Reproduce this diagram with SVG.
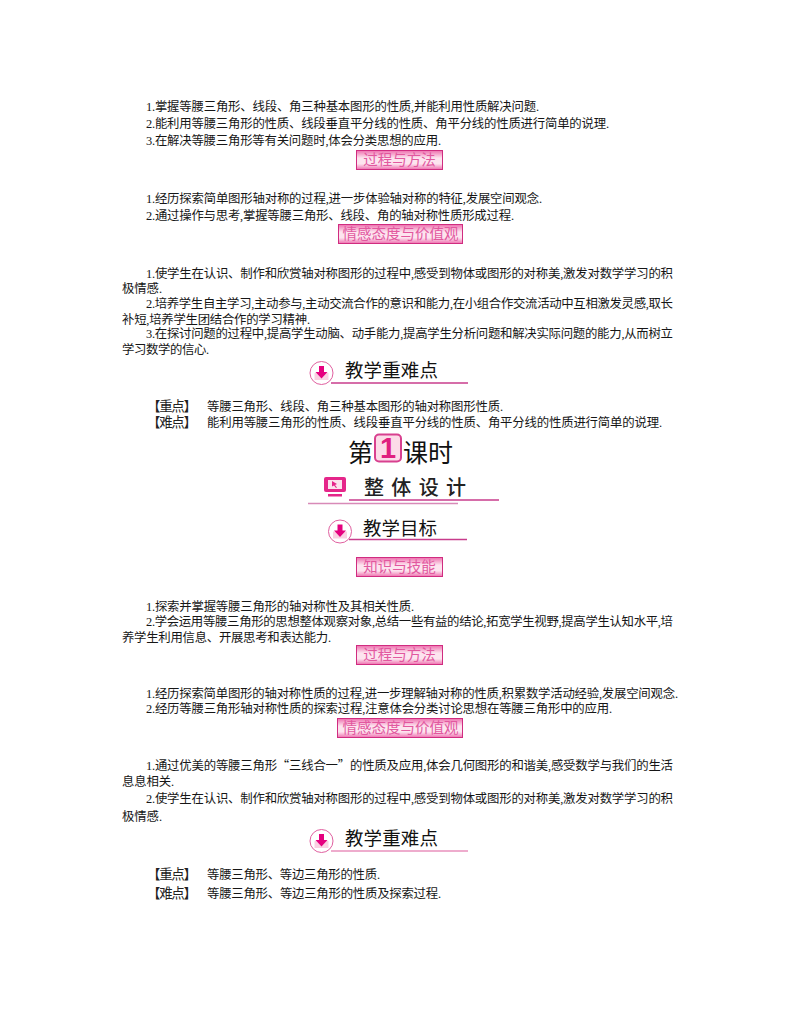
<svg xmlns="http://www.w3.org/2000/svg" width="800" height="1028" viewBox="0 0 800 1028">
<style>
text{font-family:"Liberation Serif","Noto Sans CJK SC",serif;fill:#161616}
.b{font-size:12.4px}
.k{font-size:13.5px;fill:#222}
.q{font-family:"Noto Sans CJK SC",sans-serif}
.h{font-family:"Noto Sans CJK SC",sans-serif;font-size:18.500px;fill:#111}
.t{font-family:"Noto Sans CJK SC",sans-serif;font-size:14.500px;fill:#e2589f;text-anchor:middle}
.bd{fill:url(#g);stroke:#d02c80;stroke-width:1}
.l{stroke:#c83c8c;stroke-width:1.500;fill:none}
.c{fill:#fff;stroke:#e060a0;stroke-width:1}
.i{fill:#fad0e2}
.a{fill:#e5007f}
</style>
<defs>
<linearGradient id="g" x1="0" y1="0" x2="0" y2="1">
<stop offset="0" stop-color="#ee6fae"/><stop offset=".4" stop-color="#fde4ef"/><stop offset=".7" stop-color="#fde4ef"/><stop offset="1" stop-color="#ee6fae"/>
</linearGradient>
<g id="dl">
<circle class="c" cx="0" cy="0" r="11.500"/>
<path class="i" d="M-7 0h14v7h-14z"/>
<path class="a" d="M-2.500 -7h5v6h3.500l-6 6.500l-6 -6.500h3.500z"/>
</g>
</defs>

<g id="body-text">
<text class="b" x="146" y="111" textLength="393" lengthAdjust="spacing">1.掌握等腰三角形、线段、角三种基本图形的性质,并能利用性质解决问题.</text>
<text class="b" x="146" y="128" textLength="463" lengthAdjust="spacing">2.能利用等腰三角形的性质、线段垂直平分线的性质、角平分线的性质进行简单的说理.</text>
<text class="b" x="146" y="145" textLength="295" lengthAdjust="spacing">3.在解决等腰三角形等有关问题时,体会分类思想的应用.</text>
<text class="b" x="146" y="203" textLength="396" lengthAdjust="spacing">1.经历探索简单图形轴对称的过程,进一步体验轴对称的特征,发展空间观念.</text>
<text class="b" x="146" y="220" textLength="368" lengthAdjust="spacing">2.通过操作与思考,掌握等腰三角形、线段、角的轴对称性质形成过程.</text>
<text class="b" x="146" y="277.500" textLength="527" lengthAdjust="spacing">1.使学生在认识、制作和欣赏轴对称图形的过程中,感受到物体或图形的对称美,激发对数学学习的积</text>
<text class="b" x="122" y="292.500" textLength="40" lengthAdjust="spacing">极情感.</text>
<text class="b" x="146" y="307.500" textLength="527" lengthAdjust="spacing">2.培养学生自主学习,主动参与,主动交流合作的意识和能力,在小组合作交流活动中互相激发灵感,取长</text>
<text class="b" x="122" y="323.500" textLength="188" lengthAdjust="spacing">补短,培养学生团结合作的学习精神.</text>
<text class="b" x="146" y="337.500" textLength="527" lengthAdjust="spacing">3.在探讨问题的过程中,提高学生动脑、动手能力,提高学生分析问题和解决实际问题的能力,从而树立</text>
<text class="b" x="122" y="353.500" textLength="87" lengthAdjust="spacing">学习数学的信心.</text>
<text class="k" x="147" y="410.500" textLength="50" lengthAdjust="spacing">【重点】</text>
<text class="b" x="207" y="410.500" textLength="296" lengthAdjust="spacing">等腰三角形、线段、角三种基本图形的轴对称图形性质.</text>
<text class="k" x="147" y="426.500" textLength="50" lengthAdjust="spacing">【难点】</text>
<text class="b" x="207" y="426.500" textLength="455" lengthAdjust="spacing">能利用等腰三角形的性质、线段垂直平分线的性质、角平分线的性质进行简单的说理.</text>
<text class="b" x="146" y="611" textLength="268" lengthAdjust="spacing">1.探索并掌握等腰三角形的轴对称性及其相关性质.</text>
<text class="b" x="146" y="626" textLength="527" lengthAdjust="spacing">2.学会运用等腰三角形的思想整体观察对象,总结一些有益的结论,拓宽学生视野,提高学生认知水平,培</text>
<text class="b" x="122" y="641.500" textLength="209" lengthAdjust="spacing">养学生利用信息、开展思考和表达能力.</text>
<text class="b" x="146" y="697.500" textLength="532" lengthAdjust="spacing">1.经历探索简单图形的轴对称性质的过程,进一步理解轴对称的性质,积累数学活动经验,发展空间观念.</text>
<text class="b" x="146" y="713" textLength="466" lengthAdjust="spacing">2.经历等腰三角形轴对称性质的探索过程,注意体会分类讨论思想在等腰三角形中的应用.</text>
<text class="b" x="146" y="770" textLength="527" lengthAdjust="spacing">1.通过优美的等腰三角形<tspan class="q">“</tspan>三线合一<tspan class="q">”</tspan>的性质及应用,体会几何图形的和谐美,感受数学与我们的生活</text>
<text class="b" x="122" y="786" textLength="52" lengthAdjust="spacing">息息相关.</text>
<text class="b" x="146" y="803" textLength="527" lengthAdjust="spacing">2.使学生在认识、制作和欣赏轴对称图形的过程中,感受到物体或图形的对称美,激发对数学学习的积</text>
<text class="b" x="122" y="821" textLength="40" lengthAdjust="spacing">极情感.</text>
<text class="k" x="147" y="879" textLength="50" lengthAdjust="spacing">【重点】</text>
<text class="b" x="207" y="879" textLength="173" lengthAdjust="spacing">等腰三角形、等边三角形的性质.</text>
<text class="k" x="147" y="898" textLength="50" lengthAdjust="spacing">【难点】</text>
<text class="b" x="207" y="898" textLength="234" lengthAdjust="spacing">等腰三角形、等边三角形的性质及探索过程.</text>
</g>

<g id="badge-method-1"><rect class="bd" x="356.500" y="150.500" width="86" height="19"/><text class="t" x="399.500" y="165">过程与方法</text></g>
<g id="badge-attitude-1"><rect class="bd" x="338.500" y="224.500" width="124" height="19"/><text class="t" x="400.500" y="239">情感态度与价值观</text></g>
<g id="badge-skill"><rect class="bd" x="356.500" y="557.500" width="86" height="19"/><text class="t" x="399.500" y="572">知识与技能</text></g>
<g id="badge-method-2"><rect class="bd" x="356.500" y="645.500" width="86" height="19"/><text class="t" x="399.500" y="660">过程与方法</text></g>
<g id="badge-attitude-2"><rect class="bd" x="337.500" y="718.500" width="125" height="19"/><text class="t" x="400.500" y="733">情感态度与价值观</text></g>

<g id="heading-key-1">
<use href="#dl" x="321.500" y="373"/>
<path class="l" d="M331 383H468"/>
<text class="h" x="345" y="377" textLength="93" lengthAdjust="spacing">教学重难点</text>
</g>

<g id="lesson-title">
<text x="348" y="462" style="font-family:'Noto Sans CJK SC',sans-serif;font-size:25px;fill:#111">第</text>
<rect x="375" y="434.500" width="26" height="27" rx="4" fill="#fcdbe8" stroke="#d8408f" stroke-width="2"/>
<text x="388" y="458" text-anchor="middle" style="font-family:'Liberation Sans',sans-serif;font-size:29px;font-weight:bold;fill:#e0207f">1</text>
<text x="403" y="462" textLength="50" lengthAdjust="spacing" style="font-family:'Noto Sans CJK SC',sans-serif;font-size:25px;fill:#111">课时</text>
</g>

<g id="heading-design">
<rect x="324" y="477" width="22" height="15" rx="2" fill="#e5268a"/>
<rect x="328" y="480" width="14" height="9" fill="#fbe3ee"/>
<path d="M332 481l5 3l-2 1l2 2.500l-1 .500l-2-2.500l-2 1z" fill="#e5268a"/>
<rect x="328" y="494" width="14" height="2.500" fill="#e5268a"/>
<path class="l" d="M349 500H499"/>
<path d="M308 503.500H458" stroke="#d88ab8" stroke-width="1.500" fill="none"/>
<text x="364" y="495" textLength="102" lengthAdjust="spacing" style="font-family:'Noto Sans CJK SC',sans-serif;font-weight:500;font-size:20px;fill:#222">整体设计</text>
</g>

<g id="heading-goal">
<use href="#dl" x="340" y="531.500"/>
<path class="l" d="M349 539.500H467"/>
<text class="h" x="363" y="535" textLength="74" lengthAdjust="spacing">教学目标</text>
</g>

<g id="heading-key-2">
<use href="#dl" x="321.500" y="841"/>
<path d="M331 851H468" stroke="#e890bc" stroke-width="1.500" fill="none"/>
<text class="h" x="345" y="845" textLength="93" lengthAdjust="spacing">教学重难点</text>
</g>
</svg>
